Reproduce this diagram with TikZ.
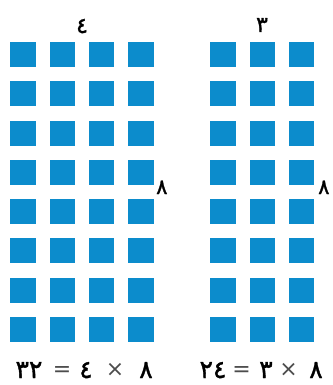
\documentclass[tikz,border=0pt]{standalone}
\usepackage{fontspec}
\newfontfamily\arabicfont[Script=Arabic]{DejaVu Sans}
\newfontfamily\arabicheavy[Script=Arabic,FakeBold=1.3]{DejaVu Sans}
\definecolor{sq}{RGB}{12,140,204}
\begin{document}
\begin{tikzpicture}[x=1pt,y=-1pt,
  sqbox/.style={fill=sq,draw=none,minimum width=25.4pt,minimum height=25pt,inner sep=0pt,anchor=north west},
  toplab/.style={font=\arabicheavy\fontsize{22}{22}\selectfont,inner sep=0pt,anchor=base},
  sidelab/.style={font=\arabicheavy\fontsize{21}{21}\selectfont,inner sep=0pt,anchor=base west},
  eqlab/.style={font=\arabicheavy\fontsize{25}{25}\selectfont,inner sep=0pt,anchor=base},
  oplab/.style={font=\arabicfont\fontsize{22}{22}\selectfont,text=black!70,inner sep=0pt,anchor=base}]
\useasboundingbox (0,0) rectangle (332,385);
% left grid 4 x 8, right grid 3 x 8
\foreach \r in {0,...,7}{
  \foreach \c in {0,...,3}{
    \node[sqbox] (L-\r-\c) at ({10+39.3*\c},{41.7+39.3*\r}) {};
  }
  \foreach \c in {0,...,2}{
    \node[sqbox] (R-\r-\c) at ({210+39.3*\c},{41.7+39.3*\r}) {};
  }
}
% top labels
\node[toplab] (lt) at (82,33) {٤};
\node[toplab] (rt) at (262,32) {٣};
% side labels
\node[sidelab] (ls) at (156,194) {٨};
\node[sidelab] (rs) at (318,194) {٨};
% equations (visual order)
\node[eqlab] (e1a) at (29,378) {٣٢};
\node[oplab] (e1b) at (62,376) {=};
\node[eqlab] (e1c) at (86,378) {٤};
\node[oplab] (e1d) at (115,376) {×};
\node[eqlab] (e1e) at (146,378) {٨};
\node[eqlab] (e2a) at (213,378) {٢٤};
\node[oplab] (e2b) at (241.5,376) {=};
\node[eqlab] (e2c) at (266,378) {٣};
\node[oplab] (e2d) at (288.5,376) {×};
\node[eqlab] (e2e) at (316,378) {٨};
\end{tikzpicture}
\end{document}
